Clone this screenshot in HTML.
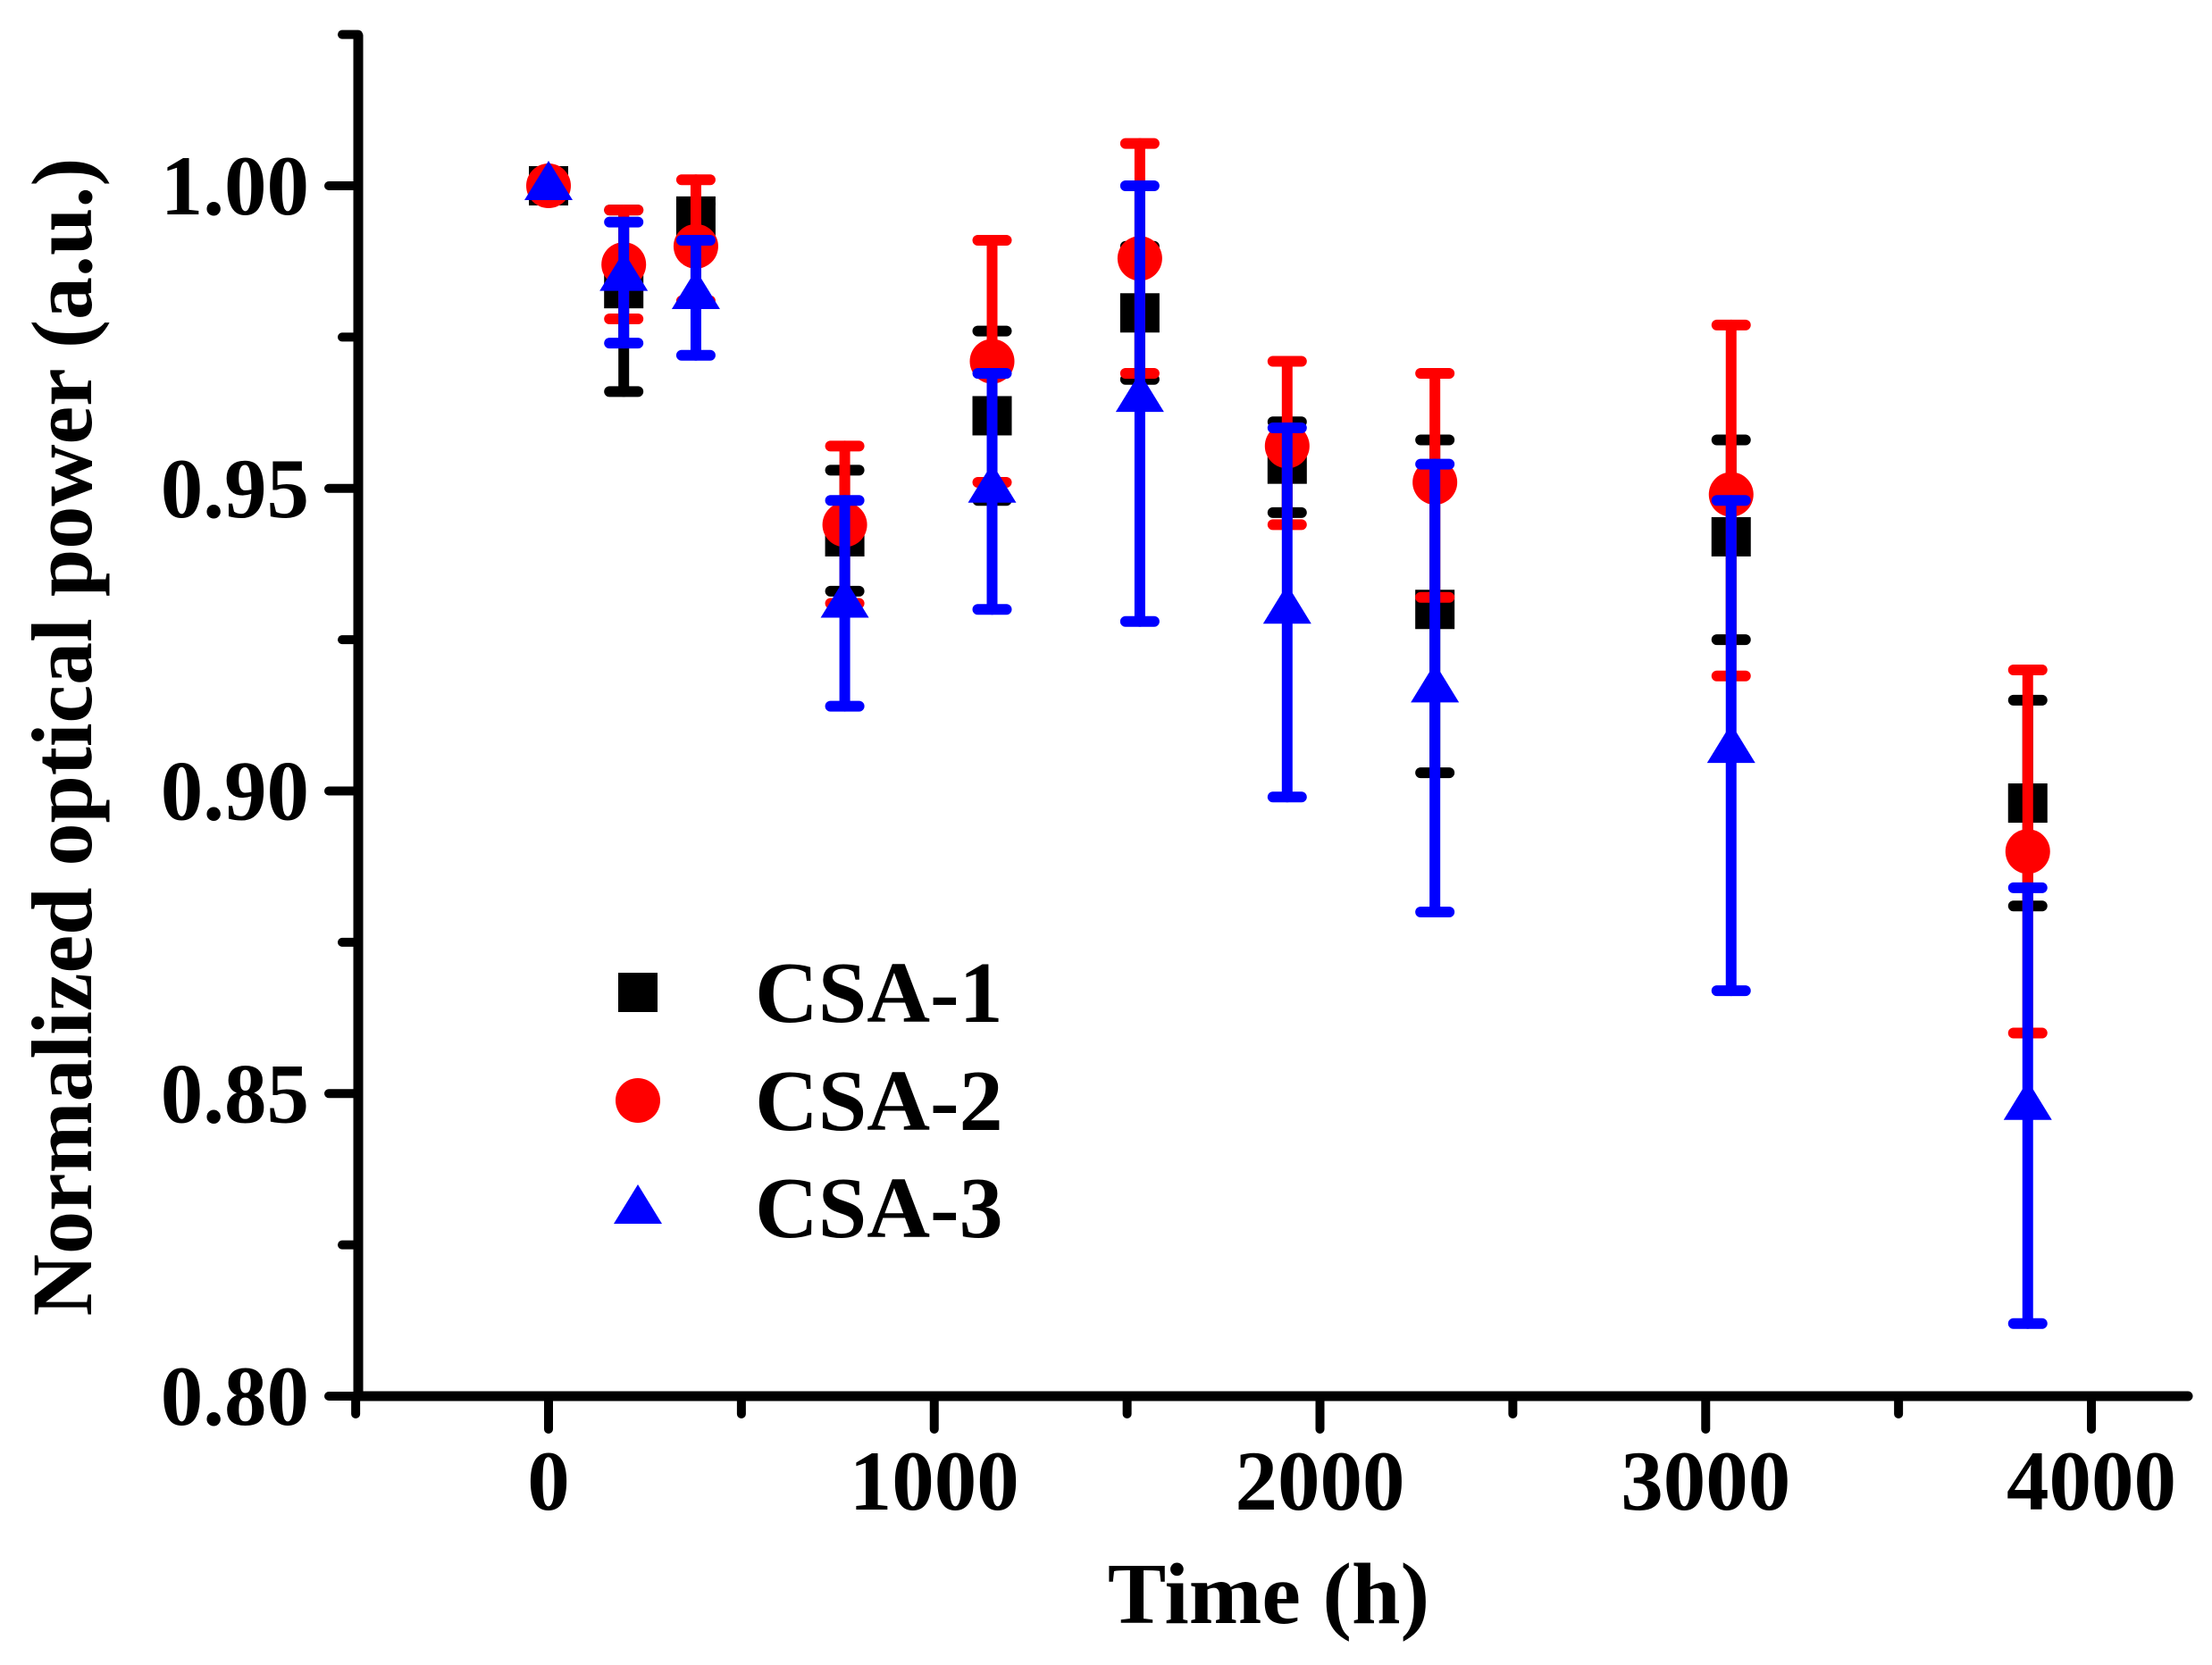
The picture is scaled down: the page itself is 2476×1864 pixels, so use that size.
<!DOCTYPE html>
<html><head><meta charset="utf-8"><style>html,body{margin:0;padding:0;background:#fff}svg{display:block}</style></head>
<body>
<svg width="2476" height="1864" viewBox="0 0 2476 1864" xmlns="http://www.w3.org/2000/svg" font-family="Liberation Serif, serif" font-weight="bold">
<rect width="2476" height="1864" fill="#fff"/>
<g stroke="#000" stroke-width="11" stroke-linecap="round" fill="none">
<line x1="401" y1="40" x2="401" y2="1563"/>
<line x1="401" y1="1563" x2="2449" y2="1563"/>
</g>
<g id="ticks" stroke="#000" stroke-width="10" stroke-linecap="round"></g>
<g id="labels" font-size="95" fill="#000"></g>
<text x="1420" y="1817" font-size="98" text-anchor="middle">Time (h)</text>
<text transform="translate(102,825) rotate(-90)" font-size="96" text-anchor="middle">Normalized optical power (a.u.)</text>
<g id="data"></g>
<g font-size="98">
<rect x="692" y="1089" width="44" height="44" fill="#000"/>
<circle cx="714" cy="1232" r="25" fill="#f00"/>
<polygon points="714,1326 741,1370 687,1370" fill="#00f"/>
<text x="845" y="1144">CSA-1</text>
<text x="845" y="1265">CSA-2</text>
<text x="845" y="1385">CSA-3</text>
</g>
<script>
var ns="http://www.w3.org/2000/svg";
function X(t){return 614+t*0.43175;}
function Y(v){return 208+(1-v)*6775;}
function el(p,n,a,txt){var e=document.createElementNS(ns,n);for(var k in a)e.setAttribute(k,a[k]);if(txt)e.textContent=txt;p.appendChild(e);return e;}
var tk=document.getElementById('ticks'),lb=document.getElementById('labels');
for(var t=-500;t<=4000;t+=500){var x=X(t);var maj=t%1000==0;el(tk,'line',{x1:x,y1:1563,x2:x,y2:maj?1600:1583});if(maj)el(lb,'text',{x:x,y:1690,'text-anchor':'middle'},String(t));}
for(var i=0;i<=9;i++){var v=0.8+i*0.025;var y=Y(v);var maj=i%2==0;el(tk,'line',{x1:401,y1:y,x2:maj?368:383,y2:y});if(maj)el(lb,'text',{x:346,y:y+32,'text-anchor':'end'},v.toFixed(2));}
var T=[0,195,382,768,1150,1533,1915,2298,3066,3835];
var S=[
{c:'#000',m:'s',d:[[1,1,1],[0.983,0.996,0.966],[0.995,0.997,0.990],[0.942,0.953,0.933],[0.962,0.976,0.948],[0.979,0.990,0.968],[0.954,0.961,0.946],[0.930,0.958,0.903],[0.942,0.958,0.925],[0.898,0.915,0.881]]},
{c:'#f00',m:'c',d:[[1,1,1],[0.987,0.996,0.978],[0.990,1.001,0.981],[0.944,0.957,0.931],[0.971,0.991,0.951],[0.988,1.007,0.969],[0.957,0.971,0.944],[0.951,0.969,0.932],[0.949,0.977,0.919],[0.890,0.920,0.860]]},
{c:'#00f',m:'t',d:[[1,1,1],[0.985,0.994,0.974],[0.982,0.991,0.972],[0.931,0.948,0.914],[0.950,0.969,0.930],[0.965,1.000,0.928],[0.930,0.960,0.899],[0.917,0.954,0.880],[0.907,0.948,0.867],[0.848,0.884,0.812]]}];
var dg=document.getElementById('data');
S.forEach(function(s){
 s.d.forEach(function(p,i){
  var x=X(T[i]),y=Y(p[0]);
  if(s.m=='s')el(dg,'rect',{x:x-22,y:y-22,width:44,height:44,fill:s.c});
  else if(s.m=='c')el(dg,'circle',{cx:x,cy:y,r:25,fill:s.c});
  else el(dg,'polygon',{points:(x)+','+(y-28)+' '+(x+27)+','+(y+16)+' '+(x-27)+','+(y+16),fill:s.c});
  if(i>0){var y1=Y(p[1]),y2=Y(p[2]);var g=el(dg,'g',{stroke:s.c,'stroke-width':12,'stroke-linecap':'round'});
   el(g,'line',{x1:x,y1:y1,x2:x,y2:y2});el(g,'line',{x1:x-16,y1:y1,x2:x+16,y2:y1});el(g,'line',{x1:x-16,y1:y2,x2:x+16,y2:y2});}
 });
});
</script>
</svg>
</body></html>
